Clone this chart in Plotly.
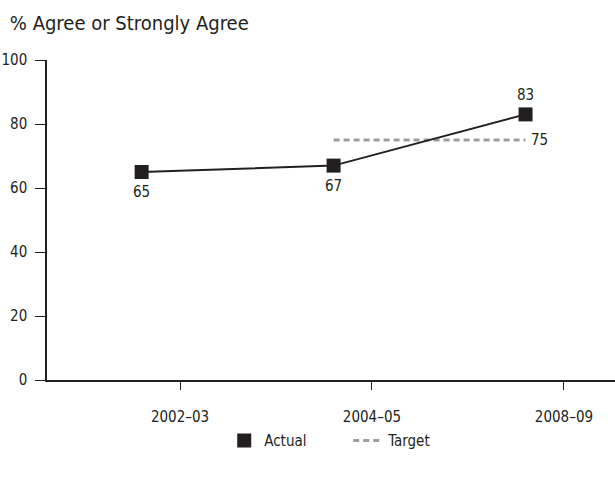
import plotly.graph_objects as go

categories = ["2002\u201303", "2004\u201305", "2008\u201309"]
actual = [65, 67, 83]
target_value = 75
target_span = ["2004\u201305", "2008\u201309"]
y_ticks = [0, 20, 40, 60, 80, 100]

FONT = "DejaVu Sans Condensed, Liberation Sans Narrow, sans-serif"
DARK = "#231f20"
GREY = "#9d9d9d"
offset = -0.2
xi = [categories.index(c) + offset for c in categories]
tx = [categories.index(c) + offset for c in target_span]

fig = go.Figure()
fig.add_trace(go.Scatter(
    x=tx, y=[target_value] * len(tx), mode="lines", name="Target", showlegend=False,
    line=dict(color=GREY, width=3, dash="6px,4px"),
))
fig.add_trace(go.Scatter(
    x=xi, y=actual, mode="lines+markers", name="Actual", showlegend=False,
    line=dict(color=DARK, width=2),
    marker=dict(symbol="square", size=14, color=DARK),
))
# legend entries
fig.add_trace(go.Scatter(
    x=[None], y=[None], mode="markers", name="Actual",
    marker=dict(symbol="square", size=14, color=DARK),
))
fig.add_trace(go.Scatter(
    x=[None], y=[None], mode="lines", name="Target",
    line=dict(color=GREY, width=3, dash="6px,4px"),
))

# data labels
for i, v in enumerate(actual):
    top = i == len(actual) - 1
    fig.add_annotation(x=xi[i], y=v, text=str(v), showarrow=False,
                       yshift=19 if top else -20,
                       font=dict(family=FONT, size=15, color=DARK))
fig.add_annotation(x=tx[-1], y=target_value, text=str(target_value), showarrow=False,
                   xshift=14, font=dict(family=FONT, size=15, color=DARK))

fig.update_layout(
    width=615, height=482,
    margin=dict(l=47, r=0, t=60, b=102),
    paper_bgcolor="white", plot_bgcolor="white",
    font=dict(family=FONT, size=15, color=DARK),
    title=dict(text="% Agree or Strongly Agree", x=0.016, xanchor="left",
               y=0.952, yanchor="middle",
               font=dict(family=FONT, size=20, color=DARK)),
    showlegend=True,
    legend=dict(orientation="h", x=0.312, xanchor="left", y=-0.19, yanchor="middle",
                font=dict(family=FONT, size=15),
                itemwidth=30, entrywidthmode="pixels", entrywidth=79),
)
fig.update_xaxes(
    range=[-0.693, 2.266], tickvals=list(range(len(categories))), ticktext=categories,
    showgrid=False, zeroline=False, showline=True, linecolor=DARK, linewidth=1.5,
    ticks="outside", ticklen=8, tickcolor=DARK, ticklabelstandoff=14,
    tickfont=dict(family=FONT, size=15),
)
fig.update_yaxes(
    range=[0, 100], tickvals=y_ticks,
    showgrid=False, zeroline=False, showline=True, linecolor=DARK, linewidth=1.5,
    ticks="outside", ticklen=10, tickcolor=DARK, ticklabelstandoff=5,
    tickfont=dict(family=FONT, size=15),
)

fig.write_html("out.html")
